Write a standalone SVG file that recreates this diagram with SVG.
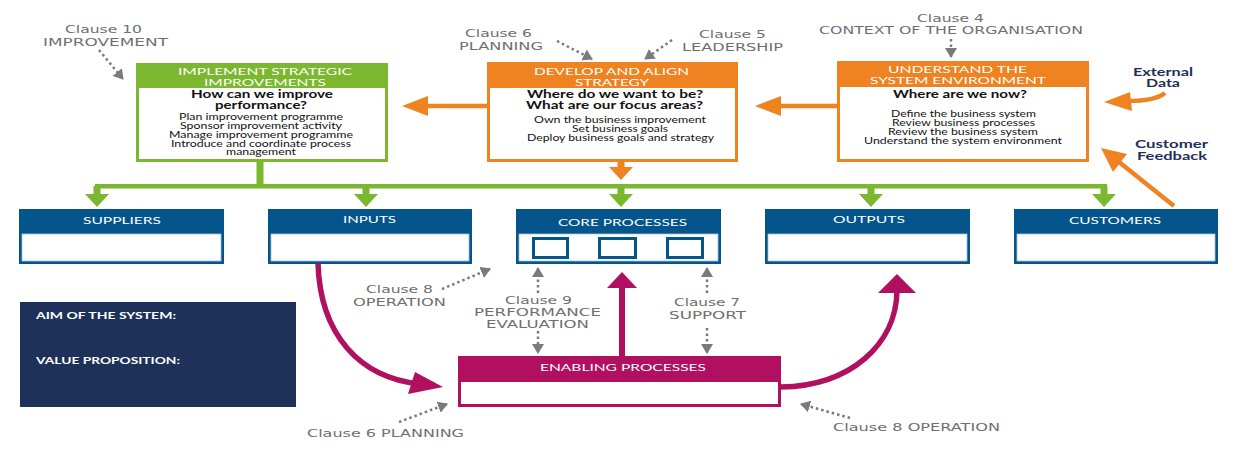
<svg xmlns="http://www.w3.org/2000/svg" width="1244" height="450" viewBox="0 0 1244 450">
<style>
.gray{font-family:"DejaVu Sans",sans-serif;font-size:10.5px;fill:#6f6f6f}
.hdr{font-family:Lato,"Liberation Sans",sans-serif;font-size:9.5px;fill:#ffffff}
.bhdr{font-family:Lato,"Liberation Sans",sans-serif;font-size:10px;fill:#ffffff}
.aim{font-family:Lato,"Liberation Sans",sans-serif;font-size:9.5px;fill:#ffffff;font-weight:bold}
.q{font-family:Lato,"Liberation Sans",sans-serif;font-size:10.5px;fill:#111111;font-weight:bold}
.b{font-family:Lato,"Liberation Sans",sans-serif;font-size:8.5px;fill:#111111}
.ext{font-family:Lato,"Liberation Sans",sans-serif;font-size:10.5px;fill:#1e2f5a;font-weight:bold}
.dot{fill:none;stroke:#7a7a7a;stroke-width:2.5;stroke-dasharray:2.5 3;marker-end:url(#gh)}
.blue{fill:#04558b}
.inner{fill:#ffffff;stroke:#a9c3d8;stroke-width:0.8}
</style>
<defs>
<marker id="gh" markerUnits="userSpaceOnUse" markerWidth="14" markerHeight="14" refX="9" refY="6" orient="auto">
<path d="M0,0 L10,6 L0,12 Z" fill="#7a7a7a"/>
</marker>
</defs>

<!-- connectors -->
<g id="connectors">
<line x1="488" y1="106" x2="426" y2="106" stroke="#ef8221" stroke-width="4.5"/>
<polygon points="402,106 428,96 428,116" fill="#ef8221"/>
<line x1="838" y1="106" x2="779" y2="106" stroke="#ef8221" stroke-width="4.5"/>
<polygon points="755,106 781,96 781,116" fill="#ef8221"/>
<rect x="617.5" y="161" width="7" height="8" fill="#ef8221"/>
<polygon points="609,167 633,167 621,180" fill="#ef8221"/>
<rect x="256.5" y="161" width="7" height="25" fill="#7cb82f"/>
<rect x="95" y="184" width="1012" height="4.5" fill="#7cb82f"/>
<g fill="#7cb82f">
<rect x="93.5" y="186" width="7" height="9"/><polygon points="85,194 109,194 97,207"/>
<rect x="362.5" y="186" width="7" height="9"/><polygon points="354,194 378,194 366,207"/>
<rect x="617.5" y="186" width="7" height="9"/><polygon points="609,194 633,194 621,207"/>
<rect x="867.5" y="186" width="7" height="9"/><polygon points="859,194 883,194 871,207"/>
<rect x="1100.5" y="186" width="7" height="9"/><polygon points="1092,194 1116,194 1104,207"/>
</g>
<path d="M1165,93 Q1155,101 1128,101" fill="none" stroke="#ef8221" stroke-width="4.5"/>
<polygon points="1104,102 1130,92 1132,111" fill="#ef8221"/>
<line x1="1174" y1="206" x2="1119" y2="162" stroke="#ef8221" stroke-width="4.5"/>
<polygon points="1101,148 1127,154 1113,172" fill="#ef8221"/>
<path d="M318,263 C320,335 360,378 420,384" fill="none" stroke="#b0105f" stroke-width="5.5"/>
<polygon points="443,387 415,372 408,394" fill="#b0105f"/>
<rect x="619" y="286" width="6" height="71" fill="#b0105f"/>
<polygon points="622,272 607,288 637,288" fill="#b0105f"/>
<path d="M781,387 C850,386 896,345 897,291" fill="none" stroke="#b0105f" stroke-width="5.5"/>
<polygon points="897,274 878,293 916,293" fill="#b0105f"/>
<line class="dot" x1="99" y1="50" x2="123" y2="79"/>
<line class="dot" x1="557" y1="41" x2="592" y2="59"/>
<line class="dot" x1="672" y1="40" x2="645" y2="59"/>
<line class="dot" x1="951" y1="39" x2="951" y2="57"/>
<line class="dot" x1="442" y1="289" x2="490" y2="269"/>
<line class="dot" x1="538" y1="293" x2="538" y2="268"/>
<line class="dot" x1="538" y1="331" x2="538" y2="353"/>
<line class="dot" x1="707" y1="293" x2="707" y2="268"/>
<line class="dot" x1="707" y1="328" x2="707" y2="353"/>
<line class="dot" x1="399" y1="422" x2="447" y2="404"/>
<line class="dot" x1="850" y1="418" x2="801" y2="404"/>
</g>

<g id="clause-labels">
<text class="gray" x="65" y="33" textLength="77" lengthAdjust="spacingAndGlyphs">Clause 10</text>
<text class="gray" x="43" y="46" textLength="125" lengthAdjust="spacingAndGlyphs">IMPROVEMENT</text>
<text class="gray" x="465" y="37" textLength="67" lengthAdjust="spacingAndGlyphs">Clause 6</text>
<text class="gray" x="459" y="50" textLength="84" lengthAdjust="spacingAndGlyphs">PLANNING</text>
<text class="gray" x="699" y="38" textLength="67" lengthAdjust="spacingAndGlyphs">Clause 5</text>
<text class="gray" x="682" y="51" textLength="101" lengthAdjust="spacingAndGlyphs">LEADERSHIP</text>
<text class="gray" x="917" y="22" textLength="67" lengthAdjust="spacingAndGlyphs">Clause 4</text>
<text class="gray" x="819" y="34" textLength="264" lengthAdjust="spacingAndGlyphs">CONTEXT OF THE ORGANISATION</text>
<text class="gray" x="366" y="293" textLength="67" lengthAdjust="spacingAndGlyphs">Clause 8</text>
<text class="gray" x="353" y="306" textLength="93" lengthAdjust="spacingAndGlyphs">OPERATION</text>
<text class="gray" x="505" y="304" textLength="67" lengthAdjust="spacingAndGlyphs">Clause 9</text>
<text class="gray" x="474" y="316" textLength="127" lengthAdjust="spacingAndGlyphs">PERFORMANCE</text>
<text class="gray" x="486" y="328" textLength="103" lengthAdjust="spacingAndGlyphs">EVALUATION</text>
<text class="gray" x="674" y="306" textLength="66" lengthAdjust="spacingAndGlyphs">Clause 7</text>
<text class="gray" x="669" y="319" textLength="77" lengthAdjust="spacingAndGlyphs">SUPPORT</text>
<text class="gray" x="307" y="437" textLength="157" lengthAdjust="spacingAndGlyphs">Clause 6 PLANNING</text>
<text class="gray" x="833" y="431" textLength="167" lengthAdjust="spacingAndGlyphs">Clause 8 OPERATION</text>
</g>

<g id="implement">
<rect x="136" y="63" width="252" height="99" fill="#7cb82f"/>
<rect x="139" y="88" width="246" height="71" fill="#ffffff"/>
<text class="hdr" x="178" y="75" textLength="174" lengthAdjust="spacingAndGlyphs">IMPLEMENT STRATEGIC</text>
<text class="hdr" x="204" y="85.5" textLength="122" lengthAdjust="spacingAndGlyphs">IMPROVEMENTS</text>
<text class="q" x="191" y="98" textLength="142" lengthAdjust="spacingAndGlyphs">How can we improve</text>
<text class="q" x="215" y="109" textLength="92" lengthAdjust="spacingAndGlyphs">performance?</text>
<text class="b" x="179" y="120" textLength="164" lengthAdjust="spacingAndGlyphs">Plan improvement programme</text>
<text class="b" x="180" y="129" textLength="162" lengthAdjust="spacingAndGlyphs">Sponsor improvement activity</text>
<text class="b" x="169" y="138" textLength="184" lengthAdjust="spacingAndGlyphs">Manage improvement programme</text>
<text class="b" x="171" y="147" textLength="180" lengthAdjust="spacingAndGlyphs">Introduce and coordinate process</text>
<text class="b" x="226" y="155" textLength="70" lengthAdjust="spacingAndGlyphs">management</text>
</g>

<g id="develop">
<rect x="487" y="62" width="251" height="100" fill="#ef8221"/>
<rect x="490" y="88" width="245" height="71" fill="#ffffff"/>
<text class="hdr" x="534" y="75" textLength="155" lengthAdjust="spacingAndGlyphs">DEVELOP AND ALIGN</text>
<text class="hdr" x="575" y="85.5" textLength="74" lengthAdjust="spacingAndGlyphs">STRATEGY</text>
<text class="q" x="527" y="98" textLength="176" lengthAdjust="spacingAndGlyphs">Where do we want to be?</text>
<text class="q" x="526" y="109" textLength="177" lengthAdjust="spacingAndGlyphs">What are our focus areas?</text>
<text class="b" x="534" y="123" textLength="172" lengthAdjust="spacingAndGlyphs">Own the business improvement</text>
<text class="b" x="572" y="132" textLength="96" lengthAdjust="spacingAndGlyphs">Set business goals</text>
<text class="b" x="527" y="141" textLength="187" lengthAdjust="spacingAndGlyphs">Deploy business goals and strategy</text>
</g>

<g id="understand">
<rect x="837" y="61" width="252" height="101" fill="#ef8221"/>
<rect x="840" y="87" width="246" height="72" fill="#ffffff"/>
<text class="hdr" x="888" y="73" textLength="139" lengthAdjust="spacingAndGlyphs">UNDERSTAND THE</text>
<text class="hdr" x="870" y="83.5" textLength="176" lengthAdjust="spacingAndGlyphs">SYSTEM ENVIRONMENT</text>
<text class="q" x="893" y="98" textLength="134" lengthAdjust="spacingAndGlyphs">Where are we now?</text>
<text class="b" x="891" y="117" textLength="145" lengthAdjust="spacingAndGlyphs">Define the business system</text>
<text class="b" x="892" y="126" textLength="143" lengthAdjust="spacingAndGlyphs">Review business processes</text>
<text class="b" x="888" y="135" textLength="150" lengthAdjust="spacingAndGlyphs">Review the business system</text>
<text class="b" x="864" y="144" textLength="198" lengthAdjust="spacingAndGlyphs">Understand the system environment</text>
</g>

<g id="external-data">
<text class="ext" x="1133" y="76" textLength="60" lengthAdjust="spacingAndGlyphs">External</text>
<text class="ext" x="1146" y="87" textLength="34" lengthAdjust="spacingAndGlyphs">Data</text>
</g>
<g id="customer-feedback">
<text class="ext" x="1135" y="148" textLength="73" lengthAdjust="spacingAndGlyphs">Customer</text>
<text class="ext" x="1137" y="160" textLength="70" lengthAdjust="spacingAndGlyphs">Feedback</text>
</g>

<g id="suppliers">
<rect class="blue" x="19" y="209" width="205" height="55"/>
<rect class="inner" x="22" y="234" width="199" height="27"/>
<text class="bhdr" x="83" y="224" textLength="78" lengthAdjust="spacingAndGlyphs">SUPPLIERS</text>
</g>
<g id="inputs">
<rect class="blue" x="268" y="209" width="204" height="55"/>
<rect class="inner" x="271" y="234" width="198" height="27"/>
<text class="bhdr" x="343" y="223" textLength="53" lengthAdjust="spacingAndGlyphs">INPUTS</text>
</g>
<g id="core-processes">
<rect class="blue" x="516" y="209" width="205" height="55"/>
<rect class="inner" x="519" y="234" width="199" height="27"/>
<text class="bhdr" x="558" y="226" textLength="129" lengthAdjust="spacingAndGlyphs">CORE PROCESSES</text>
<g fill="#ffffff" stroke="#04558b" stroke-width="3">
<rect x="533.5" y="238.5" width="34" height="19"/>
<rect x="599.5" y="238.5" width="36" height="19"/>
<rect x="667.5" y="238.5" width="35" height="19"/>
</g>
</g>
<g id="outputs">
<rect class="blue" x="765" y="209" width="205" height="55"/>
<rect class="inner" x="768" y="234" width="199" height="27"/>
<text class="bhdr" x="833" y="223" textLength="72" lengthAdjust="spacingAndGlyphs">OUTPUTS</text>
</g>
<g id="customers">
<rect class="blue" x="1014" y="209" width="204" height="55"/>
<rect class="inner" x="1017" y="234" width="198" height="27"/>
<text class="bhdr" x="1069" y="224" textLength="92" lengthAdjust="spacingAndGlyphs">CUSTOMERS</text>
</g>

<g id="aim">
<rect x="20" y="302" width="276" height="105" fill="#1e3259"/>
<text class="aim" x="36" y="319" textLength="140" lengthAdjust="spacingAndGlyphs">AIM OF THE SYSTEM:</text>
<text class="aim" x="36" y="364" textLength="144" lengthAdjust="spacingAndGlyphs">VALUE PROPOSITION:</text>
</g>

<g id="enabling">
<rect x="458" y="356" width="323" height="51" fill="#b0105f"/>
<rect x="461" y="382" width="317" height="22" fill="#ffffff"/>
<text class="bhdr" x="540" y="371" textLength="166" lengthAdjust="spacingAndGlyphs">ENABLING PROCESSES</text>
</g>
</svg>
